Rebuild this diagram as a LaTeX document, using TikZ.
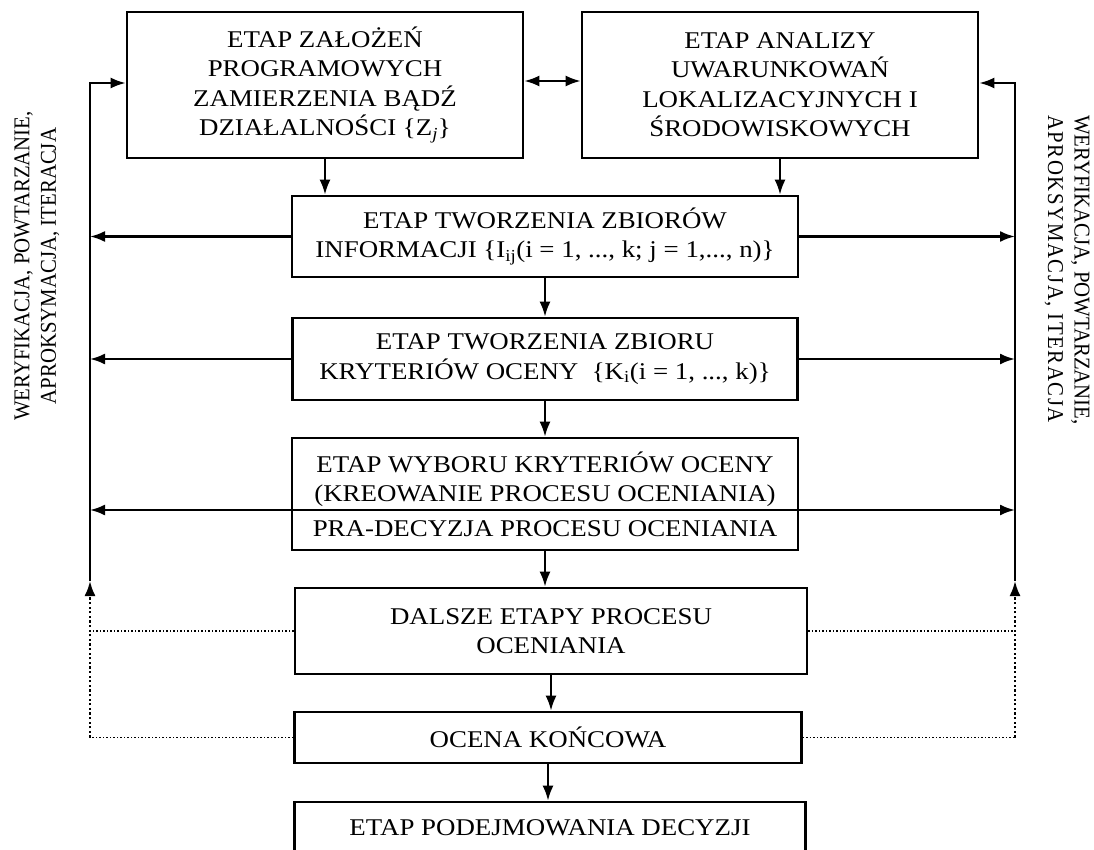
\documentclass[tikz,border=0pt]{standalone}
\usepackage{fontspec}
\setmainfont{Liberation Serif}[FakeStretch=1.12]
\newfontfamily\sidefont{Liberation Serif}[FakeStretch=0.92]
\usetikzlibrary{arrows.meta}

\begin{document}
\begin{tikzpicture}[x=1pt,y=-1pt,>={Latex[length=15pt,width=11pt]},
  box/.style={draw,line width=2.6pt,align=center,inner sep=0pt,font=\fontsize{24}{29.5}\selectfont},
  side/.style={align=center,inner sep=0pt,font=\sidefont\fontsize{22.6}{26.5}\selectfont},
  conn/.style={line width=2.3pt},
  dots/.style={line width=1.5pt,dash pattern=on 1.5pt off 2pt},
  vdots/.style={line width=2.2pt,dash pattern=on 2.2pt off 2.4pt}]
  \useasboundingbox (0,0) rectangle (1094,850);
  \node[box,minimum width=396pt,minimum height=146pt] (a) at (325,85)
    {ETAP ZAŁOŻEŃ\\PROGRAMOWYCH\\ZAMIERZENIA BĄDŹ\\DZIAŁALNOŚCI \{Z\textsubscript{\textit{j}}\}};
  \node[box,minimum width=396pt,minimum height=146pt] (b) at (780,85)
    {ETAP ANALIZY\\UWARUNKOWAŃ\\LOKALIZACYJNYCH I\\ŚRODOWISKOWYCH};
  \node[box,minimum width=506pt,minimum height=81pt] (c) at (545,236.5)
    {ETAP TWORZENIA ZBIORÓW\\INFORMACJI \{I\textsubscript{ij}(i = 1, ..., k; j = 1,..., n)\}};
  \node[box,minimum width=505pt,minimum height=82pt] (d) at (545,359)
    {ETAP TWORZENIA ZBIORU\\KRYTERIÓW OCENY \ \{K\textsubscript{i}(i = 1, ..., k)\}};
  \node[box,minimum width=506pt,minimum height=112pt] (e) at (545,494)
    {ETAP WYBORU KRYTERIÓW OCENY\\(KREOWANIE PROCESU OCENIANIA)\\[5pt]PRA-DECYZJA PROCESU OCENIANIA};
  \node[box,minimum width=512pt,minimum height=86pt] (f) at (551,631)
    {DALSZE ETAPY PROCESU\\OCENIANIA};
  \node[box,minimum width=507pt,minimum height=51pt] (g) at (548,737.5) {OCENA KOŃCOWA};
  \node[box,minimum width=511pt,minimum height=52pt] (h) at (550,828) {ETAP PODEJMOWANIA DECYZJI};
  \node[side,rotate=90] (lt) at (37,266) {WERYFIKACJA, POWTARZANIE,\\APROKSYMACJA, ITERACJA};
  \node[side,rotate=-90,align=left] (rt) at (1067,270)
    {WERYFIKACJA, POWTARZANIE,\\{\addfontfeature{LetterSpace=7}APROKSYMACJA, ITERACJA}};
  \coordinate (la) at (90,83);
  \coordinate (lm) at (90,581);
  \coordinate (le) at (90,510);
  \coordinate (ra) at (1015,83);
  \coordinate (rm) at (1015,581);
  \coordinate (re) at (1015,510);
  \draw[conn,<->] ([yshift=4pt]a.east) -- ([yshift=4pt]b.west);
  \draw[conn,->] (a.south) -- (a.south |- c.north);
  \draw[conn,->] (b.south) -- (b.south |- c.north);
  \foreach \u/\v in {c/d,d/e,e/f,f/g,g/h}
    \draw[conn,->] (\u.south) -- (\u.south |- \v.north);
  \draw[conn,->] (lm) -- (la) -- (la -| a.west);
  \draw[conn,->] (rm) -- (ra) -- (ra -| b.east);
  \foreach \n in {c,d} {
    \draw[conn,->] (\n.west) -- (\n.west -| la);
    \draw[conn,->] (\n.east) -- (\n.east -| ra);
  }
  \draw[conn,<->] (le) -- (re);
  \draw[dots] (f.west) -- (f.west -| la);
  \draw[dots] (f.east) -- (f.east -| ra);
  \draw[dots] (g.west) -- (g.west -| la);
  \draw[dots] (g.east) -- (g.east -| ra);
  \draw[vdots,->] (g.west -| la) -- (lm);
  \draw[vdots,->] (g.east -| ra) -- (rm);
\end{tikzpicture}
\end{document}
